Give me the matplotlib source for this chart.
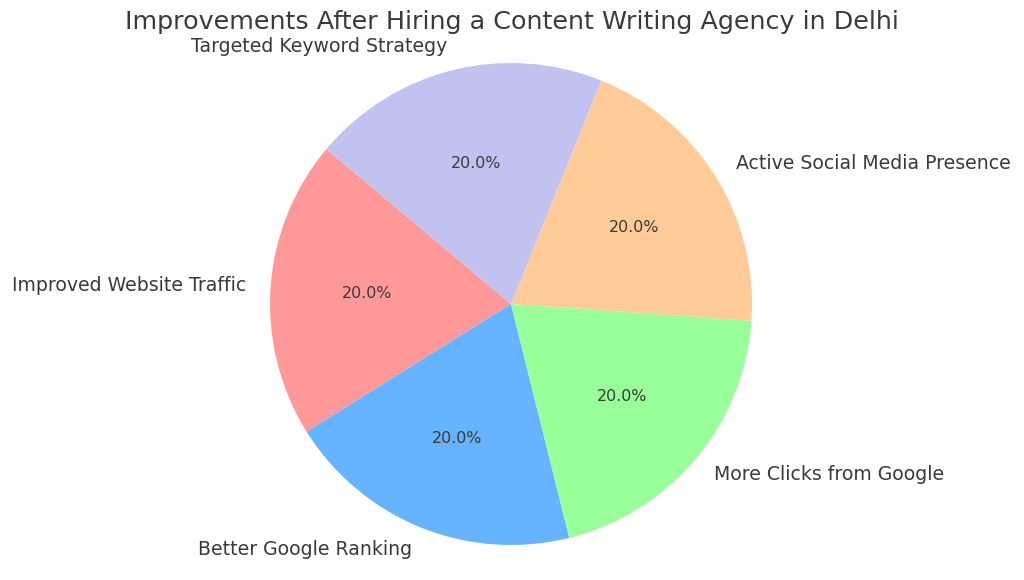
import matplotlib.pyplot as plt

labels = ['Improved Website Traffic', 'Better Google Ranking', 'More Clicks from Google',
          'Active Social Media Presence', 'Targeted Keyword Strategy']
sizes = [20, 20, 20, 20, 20]
colors = ['#ff9999', '#66b3ff', '#99ff99', '#ffcc99', '#c2c2f0']

plt.rcParams['text.color'] = '#3a3a3a'

fig = plt.figure(figsize=(10.24, 5.8), dpi=100)
ax = fig.add_axes([0, 0, 1, 1])

wedges, texts, autotexts = ax.pie(sizes, labels=labels, colors=colors, autopct='%1.1f%%',
                                  startangle=140, textprops={'fontsize': 13.6})
for t in autotexts:
    t.set_fontsize(11.4)

# one data unit = 241 px, pie centre at (511, 276) px from bottom-left
r = 241.0
cx, cy = 511.0, 276.0
ax.set_aspect('auto')
ax.set_xlim(-cx / r, (1024 - cx) / r)
ax.set_ylim(-cy / r, (580 - cy) / r)
ax.axis('off')

fig.text(0.5, 1 - 22 / 580, 'Improvements After Hiring a Content Writing Agency in Delhi',
         ha='center', va='center', fontsize=18.3)

fig.savefig('out.png', dpi=100)
